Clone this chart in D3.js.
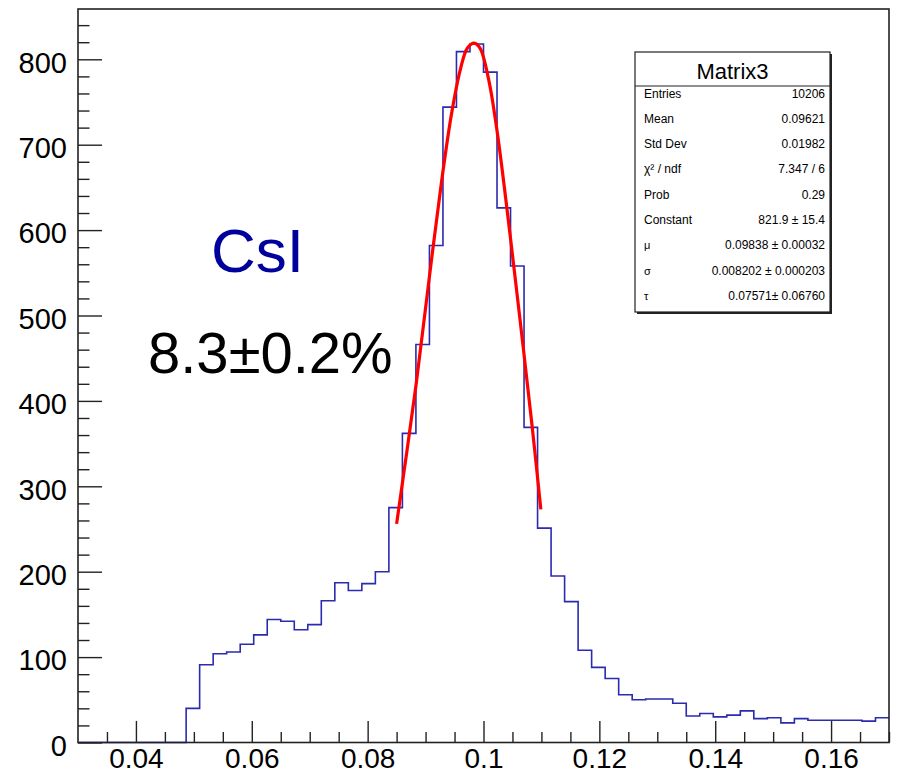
<!DOCTYPE html>
<html>
<head>
<meta charset="utf-8">
<script src="https://cdn.jsdelivr.net/npm/d3@7"></script>
<style>
  body { margin: 0; background: #fff; }
  text { font-family: "Liberation Sans", Arial, Helvetica, sans-serif; }
</style>
</head>
<body>
<svg id="chart"></svg>
<script>
var width = 897;
var height = 775;

// histogram: 60 bins between 0.03 and 0.17
var binLow = 0.03;
var binHigh = 0.17;
var counts = [0, 0, 0, 0, 0, 0, 0, 0,
  40, 91, 104, 106, 115, 126, 144, 142, 132, 138,
  166, 187, 178, 186, 200,
  275, 362, 466, 582, 744, 809, 818, 785, 626, 558, 369, 251,
  195, 165, 108, 88, 75, 56, 50, 51, 51, 46,
  31, 34, 30, 32, 37, 28, 29, 23, 28, 26,
  26, 26, 26, 25, 29];

// red fit curve
var fitX = [0.0850, 0.0884, 0.0906, 0.0928, 0.0945, 0.0960, 0.0972, 0.0984,
  0.0994, 0.1009, 0.1023, 0.1038, 0.1055, 0.1069, 0.1084, 0.1099];
var fitY = [256, 421, 542, 659, 737, 788, 813, 819,
  813, 776, 718, 639, 542, 460, 370, 273];

var xTickLabels = ["0.04", "0.06", "0.08", "0.1", "0.12", "0.14", "0.16"];
var yTickLabels = ["0", "100", "200", "300", "400", "500", "600", "700", "800"];

var histName = "Matrix3";
var statNames = ["Entries", "Mean", "Std Dev", "\u03c7\u00b2 / ndf", "Prob", "Constant", "\u03bc", "\u03c3", "\u03c4"];
var statValues = ["10206", "0.09621", "0.01982", "7.347 / 6", "0.29", "821.9 \u00b1 15.4",
  "0.09838 \u00b1 0.00032", "0.008202 \u00b1 0.000203", "0.07571\u00b1 0.06760"];

var material = "CsI";
var resolution = "8.3\u00b10.2%";

var svg = d3.select("#chart")
  .attr("width", width)
  .attr("height", height);

svg.append("rect").attr("width", width).attr("height", height).attr("fill", "#fff");

var padL = 78, padR = 889, padT = 9, padB = 742.5;

var x = d3.scaleLinear().domain([binLow, binHigh]).range([padL, padR]);
var y = d3.scaleLinear().domain([0, d3.max(counts) * 1.05]).range([padB, padT]);

var binW = (binHigh - binLow) / counts.length;

// minor ticks
svg.append("g")
  .attr("transform", "translate(" + padL + ",0)")
  .call(d3.axisLeft(y).tickValues(d3.range(0, 860, 20).filter(function (d) { return d % 100 != 0; }))
    .tickSizeInner(-11.5).tickSizeOuter(0).tickFormat(""))
  .call(function (g) { g.select(".domain").remove(); });

svg.append("g")
  .attr("transform", "translate(0," + padB + ")")
  .call(d3.axisBottom(x).tickValues(d3.range(0.035, 0.1701, 0.005).filter(function (d) {
      return Math.abs(d / 0.02 - Math.round(d / 0.02)) > 0.01; }))
    .tickSizeInner(-10.5).tickSizeOuter(0).tickFormat(""))
  .call(function (g) { g.select(".domain").remove(); });

// major ticks with labels
var yAxis = svg.append("g")
  .attr("transform", "translate(" + padL + ",0)")
  .call(d3.axisLeft(y).tickValues(yTickLabels.map(Number))
    .tickSizeInner(-24).tickSizeOuter(0).tickPadding(11)
    .tickFormat(function (d, i) { return yTickLabels[i]; }));
yAxis.select(".domain").remove();
yAxis.selectAll("text").attr("font-size", 29).attr("fill", "#000").attr("dy", "0.44em");

var xAxis = svg.append("g")
  .attr("transform", "translate(0," + padB + ")")
  .call(d3.axisBottom(x).tickValues(xTickLabels.map(Number))
    .tickSizeInner(-21.6).tickSizeOuter(0).tickPadding(6)
    .tickFormat(function (d, i) { return xTickLabels[i]; }));
xAxis.select(".domain").remove();
xAxis.selectAll("text").attr("font-size", 28).attr("fill", "#000");

svg.selectAll(".tick line").attr("stroke", "#222").attr("stroke-width", 1.4);

// histogram outline
var steps = counts.map(function (c, i) { return [binLow + i * binW, c]; });
steps.push([binHigh, counts[counts.length - 1]]);

svg.append("path")
  .datum(steps)
  .attr("fill", "none")
  .attr("stroke", "#2b2bb0")
  .attr("stroke-width", 1.6)
  .attr("d", d3.line()
    .x(function (d) { return x(d[0]); })
    .y(function (d) { return y(d[1]); })
    .curve(d3.curveStepAfter));

// fit
svg.append("path")
  .datum(fitX.map(function (v, i) { return [v, fitY[i]]; }))
  .attr("fill", "none")
  .attr("stroke", "#ff0000")
  .attr("stroke-width", 3.2)
  .attr("d", d3.line()
    .x(function (d) { return x(d[0]); })
    .y(function (d) { return y(d[1]); })
    .curve(d3.curveCatmullRom));

// frame
svg.append("rect")
  .attr("x", padL).attr("y", padT)
  .attr("width", padR - padL).attr("height", padB - padT)
  .attr("fill", "none").attr("stroke", "#222").attr("stroke-width", 1.6);

// stats box
var bx = 635, by = 52, bw = 195, bh = 260;
svg.append("rect").attr("x", bx + 2).attr("y", by + 2).attr("width", bw).attr("height", bh).attr("fill", "#222");
svg.append("rect").attr("x", bx).attr("y", by).attr("width", bw).attr("height", bh)
  .attr("fill", "#fff").attr("stroke", "#222").attr("stroke-width", 1.2);
svg.append("line").attr("x1", bx).attr("x2", bx + bw).attr("y1", 86).attr("y2", 86)
  .attr("stroke", "#222").attr("stroke-width", 1.2);
svg.append("text").attr("x", bx + bw / 2).attr("y", 78.5).attr("text-anchor", "middle")
  .attr("font-size", 22).text(histName);

statNames.forEach(function (n, i) {
  var yy = 97.5 + i * 25.3;
  svg.append("text").attr("x", 644).attr("y", yy)
    .attr("font-size", i >= 6 ? 11 : 12).text(n);
  svg.append("text").attr("x", 825).attr("y", yy).attr("text-anchor", "end")
    .attr("font-size", 12).text(statValues[i]);
});

// annotations
svg.append("text").attr("x", 211).attr("y", 271.5)
  .attr("font-size", 62).attr("fill", "#00009c").text(material);
svg.append("text").attr("x", 148).attr("y", 373)
  .attr("font-size", 58).attr("fill", "#000").text(resolution);
</script>
</body>
</html>
